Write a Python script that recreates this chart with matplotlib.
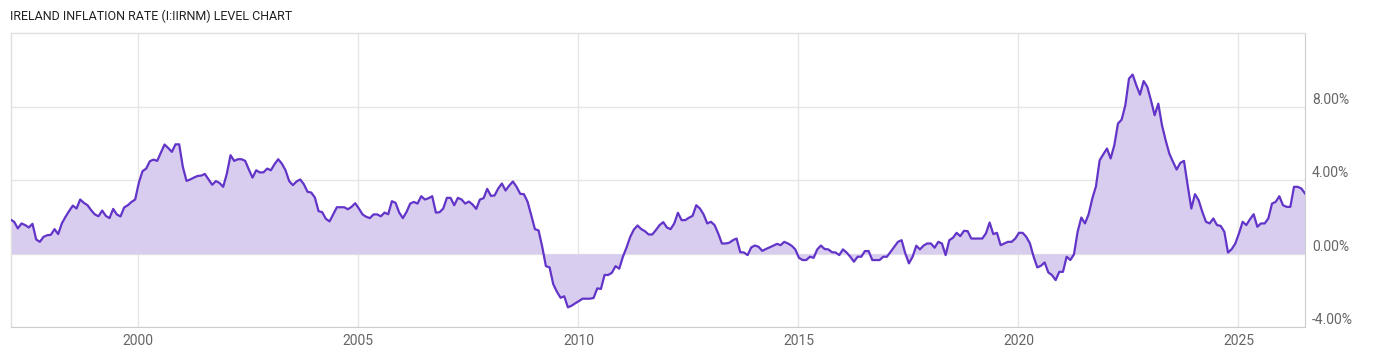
import matplotlib
matplotlib.use("Agg")
import matplotlib.pyplot as plt
import numpy as np

# Monthly inflation rate (%)
start_year = 1997.095
values = [
    1.86, 1.74, 1.38, 1.65, 1.56, 1.43, 1.63, 0.78, 0.65, 0.92,
    1.01, 1.03, 1.34, 1.07, 1.65, 2.01, 2.33, 2.62, 2.46, 2.95,
    2.77, 2.64, 2.37, 2.14, 2.04, 2.35, 2.06, 1.94, 2.44, 2.14,
    2.03, 2.52, 2.64, 2.82, 2.95, 3.87, 4.49, 4.63, 5.03, 5.12,
    5.05, 5.50, 5.94, 5.75, 5.54, 5.95, 5.95, 4.72, 3.96, 4.04,
    4.14, 4.23, 4.25, 4.34, 4.05, 3.75, 3.95, 3.85, 3.64, 4.36,
    5.36, 5.05, 5.14,
    5.14, 5.05, 4.58, 4.14, 4.54, 4.42, 4.43, 4.63, 4.54, 4.87,
    5.14, 4.90, 4.54, 3.95, 3.73, 3.93, 4.04, 3.78, 3.37, 3.33,
    3.06, 2.32, 2.26, 1.90, 1.76, 2.14, 2.53, 2.53, 2.53, 2.42,
    2.55, 2.75, 2.46, 2.14, 2.01, 1.94, 2.14, 2.14, 2.04, 2.24,
    2.15, 2.86, 2.77, 2.24, 1.94, 2.28, 2.73, 2.82, 2.73, 3.13,
    2.95, 3.02, 3.13, 2.24, 2.26, 2.46, 3.04, 3.04, 2.64, 3.04,
    2.95, 2.73, 2.84, 2.68, 2.44, 2.95, 3.02, 3.53, 3.15, 3.17,
    3.55, 3.82, 3.44, 3.71, 3.93, 3.64, 3.26, 3.24, 2.83, 2.10,
    1.34, 1.27, 0.38, -0.67, -0.74, -1.65, -2.06, -2.39, -2.31, -2.91,
    -2.82, -2.69, -2.57, -2.44, -2.44, -2.44, -2.40, -1.88, -1.91, -1.15,
    -1.15, -1.03, -0.67, -0.81, -0.16, 0.35, 0.92, 1.32, 1.54, 1.34,
    1.23, 1.05, 1.05, 1.29, 1.56, 1.72, 1.43, 1.34, 1.65, 2.23,
    1.83, 1.83, 1.96, 2.06, 2.64, 2.46, 2.14, 1.65, 1.74, 1.56,
    1.10, 0.56, 0.56, 0.60, 0.74, 0.83, 0.09, 0.07, -0.07, 0.35,
    0.45, 0.38, 0.16, 0.26, 0.35, 0.44, 0.54, 0.47, 0.65, 0.56,
    0.44, 0.24, -0.22, -0.34, -0.34, -0.16, -0.22, 0.24, 0.45, 0.26,
    0.24, 0.09, 0.07, -0.07, 0.24, 0.07, -0.16, -0.43, -0.16, -0.16,
    0.15, 0.15, -0.34, -0.34, -0.34, -0.16, -0.16, 0.11, 0.38, 0.65,
    0.74, 0.02, -0.52, -0.16, 0.44, 0.24, 0.45, 0.56, 0.56, 0.33,
    0.65, 0.56, -0.07, 0.74, 0.87, 1.14, 0.96, 1.25, 1.23, 0.83,
    0.83, 0.83, 0.83, 1.11, 1.70, 1.07, 1.14, 0.47, 0.56, 0.65,
    0.65, 0.83, 1.14, 1.14, 0.92, 0.56, -0.16, -0.74, -0.65, -0.47,
    -1.01, -1.16, -1.43, -0.98, -0.98, -0.16, -0.34, -0.03, 1.20, 1.97,
    1.65, 2.15, 3.00, 3.67, 5.08, 5.41, 5.72, 5.18, 5.90, 7.08,
    7.29, 8.07, 9.52, 9.74, 9.16, 8.65, 9.39, 9.07, 8.34, 7.53,
    8.16, 6.99, 6.17, 5.45, 5.00, 4.58, 4.94, 5.05, 3.73, 2.46,
    3.24, 2.91, 2.28, 1.74, 1.65, 1.92, 1.56, 1.52, 1.20, 0.07,
    0.25, 0.56, 1.11, 1.74, 1.56, 1.88, 2.15, 1.47, 1.65, 1.65,
    1.92, 2.73, 2.82, 3.13, 2.64, 2.55, 2.55, 3.64, 3.64, 3.55,
    3.28,
]
year_ticks = [2000, 2005, 2010, 2015, 2020, 2025]
year_labels = ["2000", "2005", "2010", "2015", "2020", "2025"]
y_ticks = [-4, 0, 4, 8]
y_labels = ["-4.00%", "0.00%", "4.00%", "8.00%"]
title = "IRELAND INFLATION RATE (I:IIRNM) LEVEL CHART"

x = start_year + np.arange(len(values)) / 12.0
y = np.array(values)

plt.rcParams['font.family'] = ['Roboto', 'DejaVu Sans']

fig = plt.figure(figsize=(14, 3.57), dpi=100)
ax = fig.add_axes([10.5 / 1400, (357 - 327.4) / 357, (1305 - 10.5) / 1400, (327.4 - 33) / 357])

line_c = '#6234c8'
fill_c = '#d8ccef'
grid_c = '#e6e6e6'

ax.fill_between(x, y, 0, color=fill_c, linewidth=0, zorder=1)
ax.plot(x, y, color=line_c, linewidth=1.6, zorder=3, solid_joinstyle='round')

ax.set_xlim(x[0], x[-1])
ax.set_ylim(-4, 12)

ax.set_xticks(year_ticks)
ax.set_xticklabels(year_labels)
ax.set_yticks(y_ticks)
ax.set_yticklabels(y_labels)
ax.yaxis.tick_right()
for lab in ax.get_yticklabels():
    lab.set_verticalalignment('bottom')

ax.tick_params(axis='both', length=0, colors='#666666', labelsize=10)
ax.tick_params(axis='y', pad=5)
ax.tick_params(axis='x', pad=5)

ax.grid(True, color=grid_c, linewidth=1, zorder=0)
ax.set_axisbelow(True)
for side in ['top', 'left']:
    ax.spines[side].set_color('#e0e0e0')
    ax.spines[side].set_linewidth(1)
ax.spines['bottom'].set_color('#cccccc')
ax.spines['right'].set_color('#cccccc')

fig.text(10 / 1400, 1 - 16 / 357, title, fontsize=9, color='#222222',
         ha='left', va='center')

fig.savefig('out.png', dpi=100, facecolor='white')
